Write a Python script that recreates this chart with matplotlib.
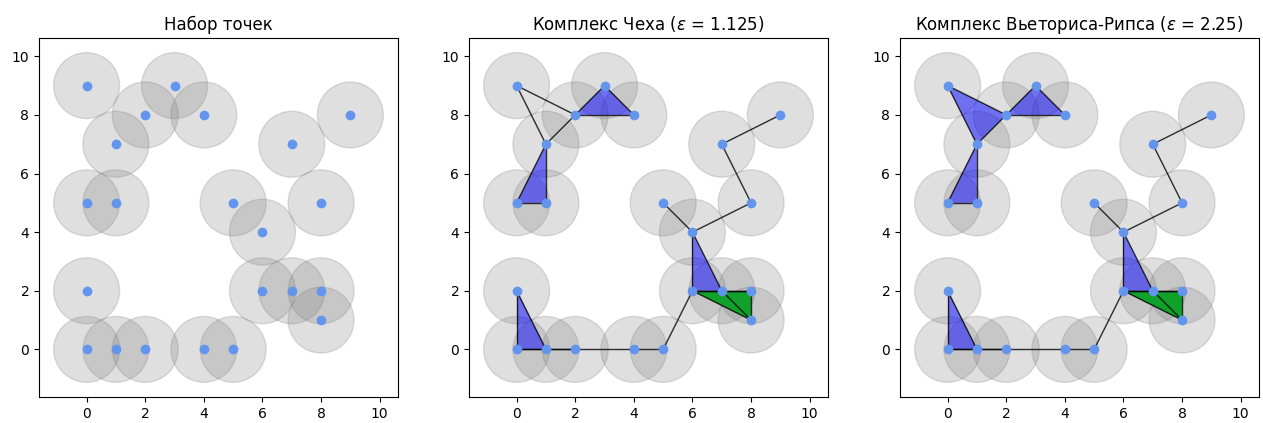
import matplotlib
matplotlib.use("Agg")
import matplotlib.pyplot as plt
from matplotlib.patches import Circle, Polygon

# point cloud
xs = [0, 3, 2, 4, 1, 7, 9, 0, 1, 5, 8, 6, 0, 6, 7, 8, 8, 0, 1, 2, 4, 5]
ys = [9, 9, 8, 8, 7, 7, 8, 5, 5, 5, 5, 4, 2, 2, 2, 2, 1, 0, 0, 0, 0, 0]
radius = 1.125

# 1-simplices (same for both complexes)
edges = [(0, 2), (0, 4), (2, 4), (1, 2), (1, 3), (2, 3), (4, 7), (4, 8), (7, 8),
         (5, 6), (5, 10), (10, 11), (9, 11), (11, 13), (11, 14), (13, 14),
         (13, 15), (13, 16), (14, 15), (14, 16), (15, 16), (13, 21), (20, 21),
         (19, 20), (18, 19), (17, 18), (17, 19), (12, 17), (12, 18)]

# 2-simplices
cech_tri = [(1, 2, 3), (4, 7, 8), (11, 13, 14), (12, 17, 18)]
vr_tri = [(0, 2, 4), (1, 2, 3), (4, 7, 8), (11, 13, 14), (12, 17, 18)]

# faces of the 3-simplex
tetra_faces = [(13, 14, 15), (13, 14, 16), (13, 15, 16), (14, 15, 16)]

titles = ["Набор точек",
          r"Комплекс Чеха ($\varepsilon$ = 1.125)",
          r"Комплекс Вьеториса-Рипса ($\varepsilon$ = 2.25)"]

fig = plt.figure(figsize=(12.63, 4.23), dpi=100)
lefts = [39, 469, 900]
axs = [fig.add_axes([l / 1263, 25 / 423, 359 / 1263, 361 / 423]) for l in lefts]


def draw_base(ax):
    for x, y in zip(xs, ys):
        ax.add_patch(Circle((x, y), radius, color='gray', alpha=0.25, zorder=1))
    ax.scatter(xs, ys, color='cornflowerblue', s=36, zorder=10)
    ax.set_xlim(-1.625, 10.625)
    ax.set_ylim(-1.625, 10.625)
    ax.set_aspect('equal')
    ax.set_xticks([0, 2, 4, 6, 8, 10])
    ax.set_yticks([0, 2, 4, 6, 8, 10])


def draw_complex(ax, tris):
    for t in tris:
        pts = [(xs[i], ys[i]) for i in t]
        ax.add_patch(Polygon(pts, closed=True, facecolor='blue', alpha=0.5,
                             edgecolor='none', zorder=3))
    for t in tetra_faces:
        pts = [(xs[i], ys[i]) for i in t]
        ax.add_patch(Polygon(pts, closed=True, facecolor='#00a01e', alpha=0.7,
                             edgecolor='none', zorder=4))
    for a, b in edges:
        ax.plot([xs[a], xs[b]], [ys[a], ys[b]], color='k', lw=1, alpha=0.8, zorder=5)


for ax, title in zip(axs, titles):
    draw_base(ax)
    ax.set_title(title)

draw_complex(axs[1], cech_tri)
draw_complex(axs[2], vr_tri)

plt.savefig("out.png", dpi=100)
